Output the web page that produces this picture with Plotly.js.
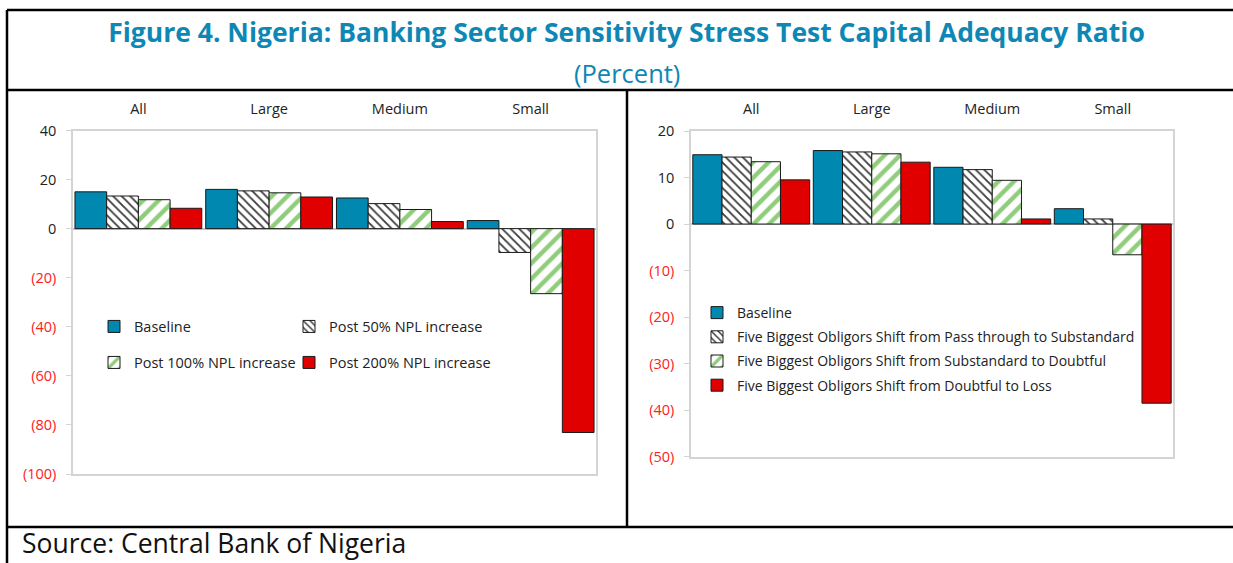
<!DOCTYPE html>
<html><head><meta charset="utf-8">
<script src="https://cdn.plot.ly/plotly-3.0.1.min.js"></script>
<style>html,body{margin:0;padding:0;background:#fff}#chart{width:1233px;height:563px}</style>
</head><body><div id="chart"></div>
<script>
// ---------- data ----------
const categories = ['All', 'Large', 'Medium', 'Small'];

// Left panel: NPL increase scenarios
const nplBaseline = [15.0, 16.0, 12.5, 3.3];
const nplPost50   = [13.3, 15.4, 10.2, -9.7];
const nplPost100  = [11.8, 14.6, 7.8, -26.5];
const nplPost200  = [8.3, 12.9, 2.9, -83.1];
const nplNames = ['Baseline', 'Post 50% NPL increase', 'Post 100% NPL increase', 'Post 200% NPL increase'];
const leftTickVals   = [-100, -80, -60, -40, -20, 0, 20, 40];
const leftTickLabels = ['(100)', '(80)', '(60)', '(40)', '(20)', '0', '20', '40'];

// Right panel: obligor shift scenarios
const oblBaseline    = [14.9, 15.8, 12.2, 3.3];
const oblPassToSub   = [14.4, 15.5, 11.7, 1.1];
const oblSubToDoubt  = [13.4, 15.1, 9.4, -6.6];
const oblDoubtToLoss = [9.5, 13.3, 1.1, -38.5];
const oblNames = ['Baseline',
  'Five Biggest Obligors Shift from Pass through to Substandard',
  'Five Biggest Obligors Shift from Substandard to Doubtful',
  'Five Biggest Obligors Shift from Doubtful to Loss'];
const rightTickVals   = [-50, -40, -30, -20, -10, 0, 10, 20];
const rightTickLabels = ['(50)', '(40)', '(30)', '(20)', '(10)', '0', '10', '20'];

// ---------- styling ----------
const W = 1233, H = 563;
const fx = p => p / W, fy = p => 1 - p / H;
const BLUE = '#0088b0', RED = '#e00000', TITLE = '#0e87b4', GRID = '#d4d4d4';
const FONT = 'Open Sans, Noto Sans, sans-serif';
const markerStyles = [
  {color: BLUE},
  {color: 'white', pattern: {shape: '\\', fgcolor: '#3a3a3a', bgcolor: 'white', size: 6, solidity: 0.3}},
  {color: 'white', pattern: {shape: '/', fgcolor: '#8fcd7c', bgcolor: 'white', size: 11, solidity: 0.4}},
  {color: RED}
];

function bar(vals, name, i, xa, ya, leg, grp) {
  const m = Object.assign({}, markerStyles[i], {line: {color: '#1a1a1a', width: 1}});
  const t = {type: 'bar', x: categories, y: vals, name: name, xaxis: xa, yaxis: ya, showlegend: true,
    legend: leg, marker: m, hovertemplate: '%{x}: %{y}<extra>' + name + '</extra>'};
  if (grp) t.legendgroup = grp;
  return t;
}

const leftSeries = [nplBaseline, nplPost50, nplPost100, nplPost200];
const rightSeries = [oblBaseline, oblPassToSub, oblSubToDoubt, oblDoubtToLoss];
const leftLegends = ['legend', 'legend2', 'legend3', 'legend4'];
const data = [];
leftSeries.forEach((v, i) => data.push(bar(v, nplNames[i], i, 'x', 'y', leftLegends[i])));
rightSeries.forEach((v, i) => data.push(bar(v, oblNames[i], i, 'x2', 'y2', 'legend5', 'r' + i)));

const colorTick = (vals, labels) => labels.map((l, k) => vals[k] < 0 ? '<span style="color:#ff2020">' + l + '</span>' : l);

const xBase = {side: 'top', showline: true, mirror: true, linecolor: GRID, linewidth: 1.5,
  ticks: '', tickfont: {size: 14.5, color: '#222'}, showgrid: false, fixedrange: true, ticklabelstandoff: 9};
const yBase = {showline: true, mirror: true, linecolor: GRID, linewidth: 1.5, ticks: 'outside', ticklen: 5,
  tickcolor: GRID, tickfont: {size: 14.5, color: '#222'}, showgrid: false, zeroline: true,
  zerolinecolor: '#c4c4c4', zerolinewidth: 1.5, fixedrange: true, ticklabelstandoff: 7};

const legFont = {size: 14.5, color: '#222', family: FONT};
const leg = (x, y, extra) => Object.assign({bgcolor: 'rgba(0,0,0,0)', xanchor: 'left', yanchor: 'middle',
  x: fx(x), y: fy(y), orientation: 'v', font: legFont, visible: true}, extra || {});

const line = (x0, y0, x1, y1) => ({type: 'line', xref: 'paper', yref: 'paper',
  x0: fx(x0), y0: fy(y0), x1: fx(x1), y1: fy(y1), line: {color: '#000', width: 2.5}});

const layout = {
  width: W, height: H, margin: {l: 0, r: 0, t: 0, b: 0},
  paper_bgcolor: 'white', plot_bgcolor: 'white', showlegend: true,
  font: {family: FONT, size: 13, color: '#222'},
  barmode: 'group', bargap: 0.03, bargroupgap: 0,
  title: {text: '<b>Figure 4. Nigeria: Banking Sector Sensitivity Stress Test Capital Adequacy Ratio</b>',
    font: {family: FONT, size: 26.5, color: TITLE}, x: fx(626.5), xanchor: 'center', xref: 'paper',
    y: fy(33), yanchor: 'middle', yref: 'container'},
  xaxis: Object.assign({}, xBase, {domain: [fx(73), fx(596)], anchor: 'y'}),
  yaxis: Object.assign({}, yBase, {domain: [fy(474), fy(130.5)], anchor: 'x', range: [-100, 40],
    tickvals: leftTickVals, ticktext: colorTick(leftTickVals, leftTickLabels)}),
  xaxis2: Object.assign({}, xBase, {domain: [fx(691), fx(1173)], anchor: 'y2'}),
  yaxis2: Object.assign({}, yBase, {domain: [fy(456.7), fy(131)], anchor: 'x2', range: [-50, 20],
    tickvals: rightTickVals, ticktext: colorTick(rightTickVals, rightTickLabels)}),
  legend: leg(94, 326.5),
  legend2: leg(289, 326.5),
  legend3: leg(94, 362.5),
  legend4: leg(289, 362.5),
  legend5: leg(697, 349, {tracegroupgap: 3, font: {size: 14, color: '#222', family: FONT}}),
  annotations: [
    {text: '(Percent)', xref: 'paper', yref: 'paper', x: fx(627), y: fy(73), xanchor: 'center', yanchor: 'middle',
      showarrow: false, font: {family: FONT, size: 25.5, color: TITLE}},
    {text: 'Source: Central Bank of Nigeria', xref: 'paper', yref: 'paper', x: fx(21), y: fy(543), xanchor: 'left', yanchor: 'middle',
      showarrow: false, borderpad: 0, font: {family: FONT, size: 26.5, color: '#111'}}
  ],
  shapes: [
    line(7, 10, 1233, 10),
    line(7, 10, 7, 563),
    line(7, 90, 1233, 90),
    line(627, 90, 627, 527),
    line(7, 527, 1233, 527)
  ]
};

Plotly.newPlot('chart', data, layout, {displayModeBar: false});
</script></body></html>
